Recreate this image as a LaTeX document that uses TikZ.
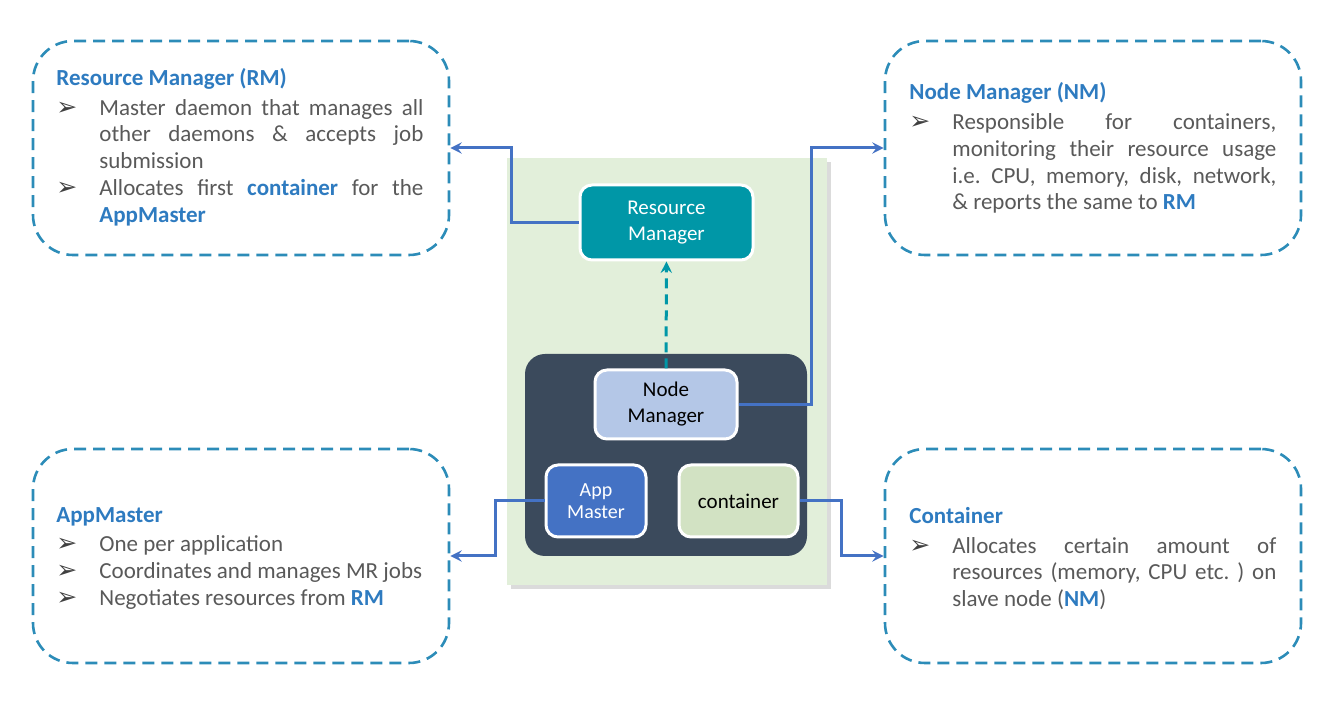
\documentclass[tikz,border=0pt]{standalone}
\usepackage{fontspec}
\setmainfont{Carlito}
\newfontfamily\symfont{DejaVu Sans}
\usetikzlibrary{shadows}

\definecolor{hdrblue}{HTML}{2E7BC0}
\definecolor{bodygray}{HTML}{595959}
\definecolor{bulgray}{HTML}{404040}
\definecolor{dashblue}{HTML}{2C8CB8}
\definecolor{linkblue}{HTML}{4472C4}
\definecolor{rmteal}{HTML}{0097A7}
\definecolor{slavedark}{HTML}{3B4A5C}
\definecolor{clustergreen}{HTML}{E2EFDA}
\definecolor{nmblue}{HTML}{B4C7E7}
\definecolor{contgreen}{HTML}{D2E2C3}

\newcommand{\hl}[1]{\textbf{\textcolor{hdrblue}{#1}}}
\newcommand{\boxtitle}[1]{\noindent{\bfseries\color{hdrblue}#1}\par\vspace{1.4pt}}
\newcommand{\bitem}{\par\hangindent=21.5pt\hangafter=1\noindent\makebox[21.5pt][l]{\color{bulgray}\symfont\fontsize{12.5}{12.5}\selectfont ➢}}

\tikzset{
  infobox/.style={draw=dashblue, line width=1.3pt, dash pattern=on 6pt off 3.5pt,
    rounded corners=20pt, minimum width=208pt, minimum height=107pt},
  infotext/.style={anchor=north west, inner sep=0pt, text width=183.5pt, align=justify,
    text=bodygray, font=\fontsize{11.5}{13.4}\selectfont\frenchspacing},
  compbox/.style={draw=white, line width=1.5pt, rounded corners=6pt,
    inner sep=0pt, align=center},
  link/.style={draw=linkblue, line width=1.5pt, ->}
}

\begin{document}
\begin{tikzpicture}[x=0.5pt,y=-0.5pt,>=stealth]
    \useasboundingbox (0,0) rectangle (1328,704);

    % master node area
    \node (cluster) [fill=clustergreen, minimum width=160pt, minimum height=213.5pt,
        drop shadow={shadow xshift=2pt, shadow yshift=-2pt, fill=black!35, opacity=0.4}]
        at (667,371.5) {};
    \node (slavenode) [fill=slavedark, rounded corners=10pt, minimum width=141pt,
        minimum height=101pt] at (666,455) {};

    \node (rm) [compbox, fill=rmteal, text=white, minimum width=86.5pt, minimum height=37.5pt,
        font=\fontsize{10.5}{13}\selectfont] at (666.5,222.5) {Resource\\Manager};
    \node (nm) [compbox, fill=nmblue, text=black, minimum width=71pt, minimum height=34.5pt,
        font=\fontsize{10.5}{13}\selectfont] at (666,404.5) {Node\\Manager};
    \node (am) [compbox, fill=linkblue, text=white, minimum width=50pt, minimum height=36pt,
        font=\fontsize{10}{11}\selectfont] at (596,501) {App\\Master};
    \node (cont) [compbox, fill=contgreen, text=black, minimum width=59.5pt, minimum height=36pt,
        font=\fontsize{10.5}{13}\selectfont] at (738.5,501) {container};

    \draw[->, draw=rmteal, line width=1.5pt, dash pattern=on 5pt off 3pt] (nm) -- (rm);

    % description boxes
    \node (rmbox) [infobox] at (241,148) {};
    \node (nmbox) [infobox] at (1093,148) {};
    \node (ambox) [infobox] at (241,556) {};
    \node (cbox) [infobox] at (1093,556) {};

    \node (rmtext) [infotext] at (56,68) {\boxtitle{Resource Manager (RM)}%
        \bitem Master daemon that manages all\linebreak other daemons \& accepts job\linebreak submission
        \bitem Allocates first \hl{container} for the\linebreak \hl{AppMaster}\par};
    \node (nmtext) [infotext] at (909,82.5) {\boxtitle{Node Manager (NM)}%
        \bitem Responsible for containers,\linebreak monitoring their resource usage\linebreak
        i.e. CPU, memory, disk, network,\linebreak \& reports the same to \hl{RM}\par};
    \node (amtext) [infotext, text width=195pt] at (56,507) {\boxtitle{AppMaster}%
        \bitem One per application
        \bitem Coordinates and manages MR jobs
        \bitem Negotiates resources from \hl{RM}\par};
    \node (ctext) [infotext] at (909,507) {\boxtitle{Container}%
        \bitem Allocates certain amount of\linebreak resources (memory, CPU etc. ) on\linebreak
        slave node (\hl{NM})\par};

    % connectors
    \draw[link] (rm.west) -- ++(-67,0) |- (rmbox.east);
    \draw[link] (nm.east) -- ++(73,0) |- (nmbox.west);
    \draw[link] (am.west) -- ++(-49,0) |- (ambox.east);
    \draw[link] (cont.east) -- ++(42,0) |- (cbox.west);
\end{tikzpicture}
\end{document}
